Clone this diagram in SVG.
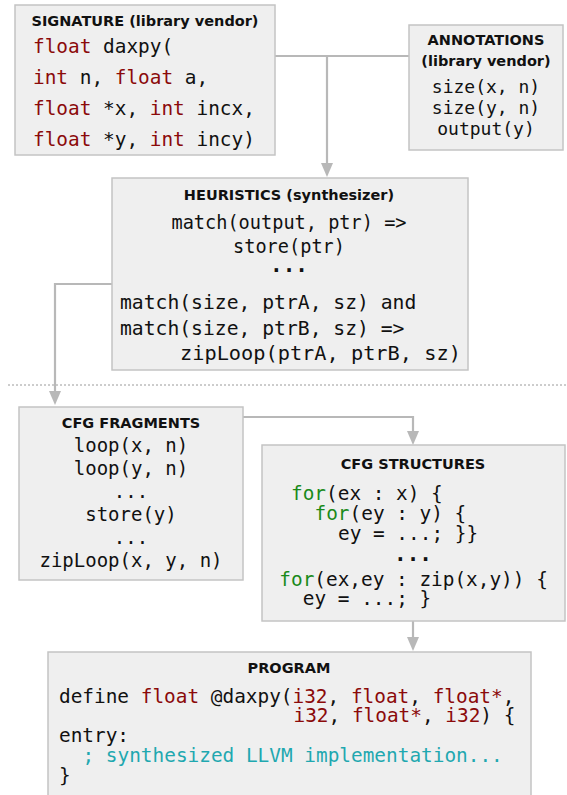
<svg xmlns="http://www.w3.org/2000/svg" width="567" height="795" viewBox="0 0 567 795">
<style>
.box{fill:#efefef;stroke:#c4c4c4;stroke-width:1.5}
.hd{font-family:"DejaVu Sans","Liberation Sans",sans-serif;font-weight:bold;font-size:14.5px;fill:#111;text-anchor:middle}
.code{font-family:"DejaVu Sans Mono","Liberation Mono",monospace;font-size:19.4px;fill:#111}
.c{text-anchor:middle}
.kw{fill:#8b0a0a}
.fr{fill:#1a8a1a}
.cm{fill:#1fa8b0}
.dots{font-weight:bold;font-size:21px}
.conn{fill:none;stroke:#b8b8b8;stroke-width:2.2}
</style>
<defs>
<marker id="ah" markerUnits="userSpaceOnUse" markerWidth="14" markerHeight="12" refX="0" refY="6" orient="auto">
<path d="M0,0 L14,6 L0,12 z" fill="#b8b8b8"/>
</marker>
</defs>
<line x1="8" y1="385" x2="567" y2="385" stroke="#9a9a9a" stroke-width="1" stroke-dasharray="2,2"/>
<g id="connectors">
<path class="conn" d="M275,56 H409"/>
<path class="conn" d="M327,56 V163" marker-end="url(#ah)"/>
<path class="conn" d="M112,284 H55 V391" marker-end="url(#ah)"/>
<path class="conn" d="M243,417 H413 V431" marker-end="url(#ah)"/>
<path class="conn" d="M413,621 V637" marker-end="url(#ah)"/>
</g>
<g id="signature">
<rect class="box" x="15" y="5" width="260" height="150"/>
<text class="hd" x="145" y="26">SIGNATURE (library vendor)</text>
<text class="code" x="33" y="53"><tspan class="kw">float</tspan> daxpy(</text>
<text class="code" x="33" y="84"><tspan class="kw">int</tspan> n, <tspan class="kw">float</tspan> a,</text>
<text class="code" x="33" y="115"><tspan class="kw">float</tspan> *x, <tspan class="kw">int</tspan> incx,</text>
<text class="code" x="33" y="146"><tspan class="kw">float</tspan> *y, <tspan class="kw">int</tspan> incy)</text>
</g>
<g id="annotations">
<rect class="box" x="409" y="25" width="154" height="125"/>
<text class="hd" x="486" y="45">ANNOTATIONS</text>
<text class="hd" x="486" y="66">(library vendor)</text>
<text class="code c" x="486" y="93" style="font-size:18px">size(x, n)</text>
<text class="code c" x="486" y="114" style="font-size:18px">size(y, n)</text>
<text class="code c" x="486" y="135" style="font-size:18px">output(y)</text>
</g>
<g id="heuristics">
<rect class="box" x="112" y="178" width="356" height="192"/>
<text class="hd" x="289" y="200">HEURISTICS (synthesizer)</text>
<text class="code c" x="289" y="229" style="font-size:18.6px">match(output, ptr) =&gt;</text>
<text class="code c" x="289" y="253" style="font-size:18.6px">store(ptr)</text>
<text class="code c dots" x="289" y="272">...</text>
<text class="code" x="120" y="309" style="font-size:19.7px">match(size, ptrA, sz) and</text>
<text class="code" x="120" y="335" style="font-size:19.7px">match(size, ptrB, sz) =&gt;</text>
<text class="code" x="180" y="360" style="font-size:20.3px">zipLoop(ptrA, ptrB, sz)</text>
</g>
<g id="cfg-fragments">
<rect class="box" x="19" y="407" width="224" height="173"/>
<text class="hd" x="131" y="428">CFG FRAGMENTS</text>
<text class="code c" x="131" y="452" style="font-size:19px">loop(x, n)</text>
<text class="code c" x="131" y="475" style="font-size:19px">loop(y, n)</text>
<text class="code c" x="131" y="498" style="font-size:19px">...</text>
<text class="code c" x="131" y="521" style="font-size:19px">store(y)</text>
<text class="code c" x="131" y="544" style="font-size:19px">...</text>
<text class="code c" x="131" y="567" style="font-size:19px">zipLoop(x, y, n)</text>
</g>
<g id="cfg-structures">
<rect class="box" x="262" y="445" width="303" height="176"/>
<text class="hd" x="413" y="469">CFG STRUCTURES</text>
<text class="code" x="291" y="500"><tspan class="fr">for</tspan>(ex : x) {</text>
<text class="code" x="314.5" y="520"><tspan class="fr">for</tspan>(ey : y) {</text>
<text class="code" x="338" y="540">ey = ...; }}</text>
<text class="code c dots" x="413" y="561">...</text>
<text class="code" x="279.3" y="586"><tspan class="fr">for</tspan>(ex,ey : zip(x,y)) {</text>
<text class="code" x="302.8" y="605">ey = ...; }</text>
</g>
<g id="program">
<rect class="box" x="48" y="652" width="483" height="160"/>
<text class="hd" x="289" y="673">PROGRAM</text>
<text class="code" x="59" y="702.5">define <tspan class="kw">float</tspan> @daxpy(<tspan class="kw">i32</tspan>, <tspan class="kw">float</tspan>, <tspan class="kw">float*</tspan>,</text>
<text class="code" x="293.5" y="721.5"><tspan class="kw">i32</tspan>, <tspan class="kw">float*</tspan>, <tspan class="kw">i32</tspan>) {</text>
<text class="code" x="59" y="741.5">entry:</text>
<text class="code cm" x="82.5" y="761.5">; synthesized LLVM implementation...</text>
<text class="code" x="59" y="781.5">}</text>
</g>
</svg>
